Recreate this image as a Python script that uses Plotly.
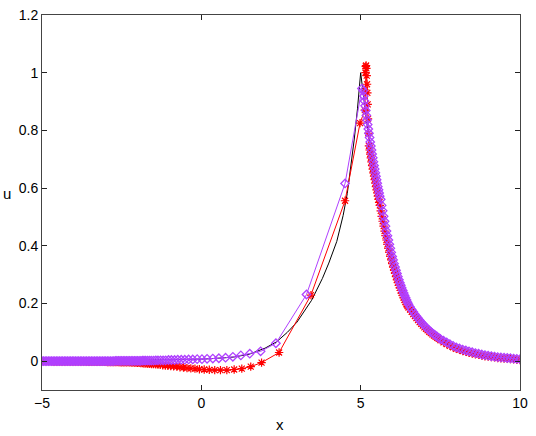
import plotly.graph_objects as go

# ---------------- data ----------------
# exact solution (black line)
black_x = [-5, -4, -3, -2, -1, 0, 0.5, 1.0, 1.5, 2.0, 2.36, 2.7, 3.0, 3.46, 3.8, 4.0, 4.25, 4.45, 4.58,
           4.7, 4.8, 4.9, 5.0,
           5.2, 5.4, 5.6, 5.8, 6.0, 6.3, 6.6, 7.0, 7.5, 8.0, 8.5, 9.0, 9.5, 10.0]
black_u = [0.000, 0.001, 0.002, 0.003, 0.005, 0.007, 0.010, 0.014, 0.024, 0.045, 0.067, 0.100, 0.135, 0.211,
           0.287, 0.340, 0.415, 0.505, 0.581, 0.675, 0.770, 0.875, 1.000,
           0.820, 0.680, 0.565, 0.455, 0.360, 0.250, 0.180, 0.122, 0.078, 0.048, 0.030, 0.019, 0.012, 0.007]

# red asterisk series
red_x_far = [-5.00, -4.95, -4.90, -4.85, -4.80, -4.75, -4.70, -4.65, -4.60, -4.55, -4.50, -4.45, -4.40,
             -4.35, -4.30, -4.25, -4.20, -4.15, -4.10, -4.05, -4.00, -3.95, -3.90, -3.85, -3.80, -3.75,
             -3.70, -3.65, -3.60, -3.55, -3.50, -3.45, -3.40, -3.35, -3.30, -3.25, -3.20, -3.15, -3.10,
             -3.05, -3.00, -2.95, -2.90, -2.85, -2.80, -2.75, -2.70, -2.65, -2.60, -2.55, -2.50, -2.45,
             -2.40, -2.35, -2.30, -2.25]
red_u_far = [0.000, 0.000, 0.000, 0.000, 0.000, 0.000, 0.000,
             -0.001, -0.001, -0.001, -0.001, -0.001, -0.001, -0.001, -0.001, -0.001, -0.001, -0.001,
             -0.001, -0.001, -0.001, -0.001, -0.001, -0.001, -0.001, -0.001, -0.001, -0.001,
             -0.002, -0.002, -0.002, -0.002, -0.002, -0.002, -0.002, -0.002, -0.002, -0.002, -0.002,
             -0.002, -0.002,
             -0.003, -0.003, -0.003, -0.003, -0.003, -0.003, -0.003, -0.003,
             -0.004, -0.004, -0.004, -0.004, -0.004, -0.004, -0.004]
red_x_left = [-2.20, -2.15, -2.10, -2.05, -2.00, -1.95, -1.90, -1.85, -1.80, -1.74, -1.68, -1.62, -1.56,
              -1.50, -1.43, -1.36, -1.29, -1.21, -1.13, -1.05, -0.96, -0.87, -0.77, -0.67, -0.56, -0.45,
              -0.33, -0.20, -0.06, 0.09, 0.25, 0.42, 0.60, 0.80, 1.03, 1.27, 1.55, 1.89, 2.44, 3.44,
              4.51, 4.98]
red_u_left = [-0.005, -0.005, -0.005, -0.006, -0.006, -0.006, -0.007, -0.007, -0.008, -0.008, -0.009,
              -0.009, -0.010, -0.010, -0.011, -0.012, -0.013, -0.014, -0.015, -0.016, -0.017, -0.018,
              -0.019, -0.021, -0.022, -0.024, -0.025, -0.026, -0.028, -0.029, -0.030, -0.031, -0.031,
              -0.031, -0.029, -0.026, -0.019, -0.005, 0.030, 0.229, 0.556, 0.825]
red_x_peak = [5.13, 5.14, 5.15, 5.16, 5.17, 5.18, 5.19, 5.20, 5.21, 5.22, 5.23, 5.24]
red_u_peak = [0.870, 0.940, 1.000, 1.022, 1.025, 1.015, 0.990, 0.960, 0.930, 0.890, 0.840, 0.790]
red_x_right = [5.26, 5.28, 5.30, 5.32, 5.34, 5.36, 5.38, 5.40, 5.42, 5.44, 5.46, 5.48, 5.50, 5.52, 5.54,
               5.56, 5.58, 5.60,
               5.63, 5.66, 5.69, 5.72, 5.75, 5.78, 5.81, 5.84, 5.87, 5.90, 5.93, 5.96, 5.99, 6.02, 6.05,
               6.08, 6.11, 6.14, 6.17, 6.20, 6.23, 6.26, 6.29, 6.32, 6.35, 6.38, 6.41, 6.44, 6.47, 6.50,
               6.55, 6.60, 6.65, 6.70, 6.75, 6.80, 6.85, 6.90, 6.95, 7.00, 7.05, 7.10, 7.15, 7.20, 7.25,
               7.30, 7.35, 7.40, 7.45, 7.50,
               7.6, 7.7, 7.8, 7.9, 8.0, 8.1, 8.2, 8.3, 8.4, 8.5, 8.6, 8.7, 8.8, 8.9, 9.0, 9.1, 9.2, 9.3,
               9.4, 9.5, 9.6, 9.7, 9.8, 9.9, 10.0]
red_u_right = [0.746, 0.732, 0.718, 0.705, 0.691, 0.678, 0.666, 0.653, 0.641, 0.629, 0.617, 0.605, 0.594,
               0.583, 0.572, 0.561, 0.550, 0.540,
               0.521, 0.502, 0.485, 0.468, 0.451, 0.435, 0.420, 0.405, 0.391, 0.377, 0.363, 0.351, 0.338,
               0.326, 0.315, 0.304, 0.293, 0.282, 0.272, 0.263, 0.254, 0.245, 0.236, 0.228, 0.220, 0.212,
               0.204, 0.197, 0.191, 0.186,
               0.179, 0.171, 0.163, 0.156, 0.149, 0.142, 0.135, 0.129, 0.123, 0.117, 0.112, 0.107, 0.102,
               0.097, 0.093, 0.089, 0.085, 0.081, 0.077, 0.073,
               0.065, 0.059, 0.053, 0.048, 0.043, 0.039, 0.035, 0.032, 0.029, 0.026, 0.024, 0.022, 0.019,
               0.017, 0.016, 0.014, 0.013, 0.011, 0.010, 0.009, 0.008, 0.007, 0.006, 0.005, 0.004]

# purple diamond series
purple_x_far = [-5.00, -4.95, -4.90, -4.85, -4.80, -4.75, -4.70, -4.65, -4.60, -4.55, -4.50, -4.45, -4.40,
                -4.35, -4.30, -4.25, -4.20, -4.15, -4.10, -4.05, -4.00, -3.95, -3.90, -3.85, -3.80, -3.75,
                -3.70, -3.65, -3.60, -3.55, -3.50, -3.45, -3.40, -3.35, -3.30, -3.25, -3.20, -3.15, -3.10,
                -3.05, -3.00, -2.95, -2.90, -2.85, -2.80, -2.75, -2.70, -2.65, -2.60, -2.55, -2.50, -2.45,
                -2.40, -2.35, -2.30, -2.25]
purple_u_far = [0.000, 0.000, 0.000, 0.000, 0.000, 0.000, 0.000, 0.000, 0.000, 0.000, 0.000, 0.000, 0.000,
                0.000, 0.000, 0.000, 0.000, 0.000, 0.000, 0.000, 0.000, 0.000, 0.000, 0.000, 0.000, 0.000,
                0.000, 0.000, 0.000, 0.000, 0.000, 0.000, 0.000, 0.000, 0.000, 0.000, 0.000, 0.000, 0.000,
                0.000, 0.000, 0.000, 0.000, 0.000, 0.000, 0.000,
                0.001, 0.001, 0.001, 0.001, 0.001, 0.001, 0.001, 0.001, 0.001, 0.001]
purple_x_left = [-2.20, -2.15, -2.10, -2.05, -2.00, -1.95, -1.90, -1.85, -1.80, -1.75, -1.69, -1.63, -1.57,
                 -1.50, -1.43, -1.36, -1.28, -1.20, -1.12, -1.03, -0.94, -0.84, -0.74, -0.63, -0.52, -0.40,
                 -0.27, -0.13, 0.02, 0.18, 0.36, 0.55, 0.76, 0.99, 1.24, 1.52, 1.86, 2.34, 3.30, 4.51, 5.04]
purple_u_left = [0.001, 0.001, 0.001, 0.001, 0.001, 0.001, 0.001, 0.002, 0.002, 0.002, 0.002, 0.002, 0.002,
                 0.002, 0.003, 0.003, 0.003, 0.003, 0.003, 0.004, 0.004, 0.004, 0.005, 0.005, 0.005, 0.006,
                 0.006, 0.007, 0.007, 0.008, 0.009, 0.010, 0.012, 0.015, 0.020, 0.026, 0.034, 0.062, 0.231,
                 0.616, 0.945]
purple_x_right = [5.08, 5.10, 5.12, 5.14, 5.16, 5.18, 5.20, 5.22, 5.24, 5.26, 5.28, 5.30, 5.32, 5.34, 5.36,
                  5.38, 5.40, 5.42, 5.44, 5.46, 5.48, 5.50, 5.52, 5.54, 5.56, 5.58, 5.60,
                  5.63, 5.66, 5.69, 5.72, 5.75, 5.78, 5.81, 5.84, 5.87, 5.90, 5.93, 5.96, 5.99, 6.02, 6.05,
                  6.08, 6.11, 6.14, 6.17, 6.20, 6.23, 6.26, 6.29, 6.32, 6.35, 6.38, 6.41, 6.44, 6.47, 6.50,
                  6.55, 6.60, 6.65, 6.70, 6.75, 6.80, 6.85, 6.90, 6.95, 7.00, 7.05, 7.10, 7.15, 7.20, 7.25,
                  7.30, 7.35, 7.40, 7.45, 7.50,
                  7.6, 7.7, 7.8, 7.9, 8.0, 8.1, 8.2, 8.3, 8.4, 8.5, 8.6, 8.7, 8.8, 8.9, 9.0, 9.1, 9.2, 9.3,
                  9.4, 9.5, 9.6, 9.7, 9.8, 9.9, 10.0]
purple_u_right = [0.937, 0.919, 0.902, 0.885, 0.869, 0.852, 0.836, 0.820, 0.805, 0.790, 0.775, 0.760, 0.746,
                  0.732, 0.718, 0.705, 0.691, 0.678, 0.666, 0.653, 0.641, 0.629, 0.617, 0.605, 0.594, 0.583,
                  0.572,
                  0.561, 0.540, 0.521, 0.502, 0.485, 0.468, 0.451, 0.435, 0.420, 0.405, 0.391, 0.377, 0.363,
                  0.351, 0.338, 0.326, 0.315, 0.304, 0.293, 0.282, 0.272, 0.263, 0.254, 0.245, 0.236, 0.228,
                  0.220, 0.212, 0.204, 0.197,
                  0.188, 0.179, 0.171, 0.163, 0.156, 0.149, 0.142, 0.135, 0.129, 0.123, 0.117, 0.112, 0.107,
                  0.102, 0.097, 0.093, 0.089, 0.085, 0.081, 0.077,
                  0.071, 0.065, 0.059, 0.053, 0.048, 0.044, 0.040, 0.037, 0.034, 0.031, 0.028, 0.026, 0.023,
                  0.021, 0.019, 0.017, 0.016, 0.014, 0.013, 0.012, 0.011, 0.010, 0.009, 0.008, 0.007]

x_ticks = [-5, 0, 5, 10]
x_ticktext = ["\u22125", "0", "5", "10"]
y_ticks = [0, 0.2, 0.4, 0.6, 0.8, 1.0, 1.2]
y_ticktext = ["0", "0.2", "0.4", "0.6", "0.8", "1", "1.2"]

# ---------------- figure ----------------
RED = "#FF0000"
PURPLE = "#B040FF"
FONT = "Liberation Sans, Arial, sans-serif"

fig = go.Figure()
fig.add_trace(go.Scatter(x=black_x, y=black_u, mode="lines",
                         line=dict(color="black", width=1), showlegend=False, hoverinfo="skip"))
fig.add_trace(go.Scatter(x=red_x_far + red_x_left + red_x_peak + red_x_right,
                         y=red_u_far + red_u_left + red_u_peak + red_u_right,
                         mode="lines+markers",
                         line=dict(color=RED, width=1),
                         marker=dict(symbol="asterisk-open", size=7, color=RED,
                                     line=dict(color=RED, width=1.2)),
                         showlegend=False, hoverinfo="skip"))
fig.add_trace(go.Scatter(x=purple_x_far + purple_x_left + purple_x_right,
                         y=purple_u_far + purple_u_left + purple_u_right,
                         mode="lines+markers",
                         line=dict(color=PURPLE, width=1),
                         marker=dict(symbol="diamond-open", size=6.5, color=PURPLE,
                                     line=dict(color=PURPLE, width=1.3)),
                         showlegend=False, hoverinfo="skip"))

axis_common = dict(showgrid=False, zeroline=False, showline=True, linecolor="#444",
                   linewidth=1, mirror="ticks", ticks="inside", ticklen=5,
                   tickcolor="#222", tickwidth=1, automargin=False,
                   tickfont=dict(family=FONT, size=14, color="black"))
fig.update_xaxes(range=[-5, 10], tickvals=x_ticks, ticktext=x_ticktext, **axis_common)
fig.update_yaxes(range=[-0.1, 1.2], tickvals=y_ticks, ticktext=y_ticktext, **axis_common)

fig.add_annotation(text="x", xref="paper", yref="paper", x=0.498, y=-0.093,
                   showarrow=False, font=dict(family=FONT, size=15, color="black"),
                   xanchor="center", yanchor="middle")
fig.add_annotation(text="u", xref="paper", yref="paper", x=-0.073, y=0.525,
                   showarrow=False, font=dict(family=FONT, size=15, color="black"),
                   xanchor="center", yanchor="middle")

fig.update_layout(width=536, height=436, autosize=False,
                  margin=dict(l=42, r=16, t=15, b=46, autoexpand=False),
                  paper_bgcolor="white", plot_bgcolor="white",
                  font=dict(family=FONT, size=14, color="black"))

fig.write_html("out.html", config={"displayModeBar": False, "staticPlot": True})

# remove default page margins so the figure sits at the window's top-left corner
with open("out.html", "r", encoding="utf-8") as f:
    html = f.read()
html = html.replace("<head>", "<head><style>html,body{margin:0;padding:0;overflow:hidden;}</style>", 1)
with open("out.html", "w", encoding="utf-8") as f:
    f.write(html)
